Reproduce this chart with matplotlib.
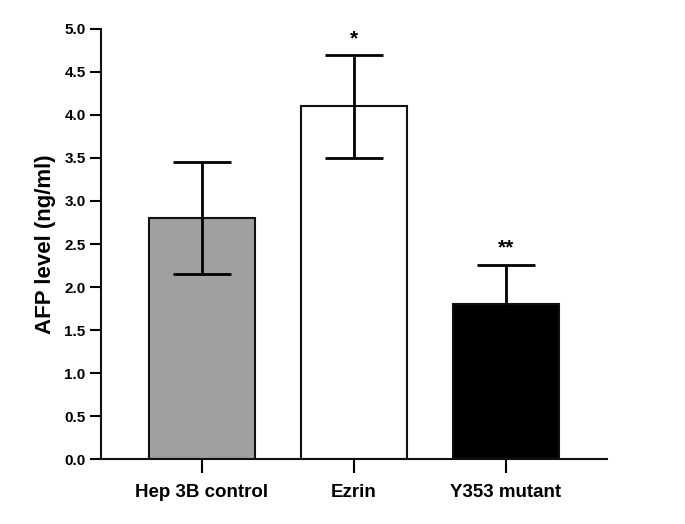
import matplotlib; matplotlib.use("Agg")
import matplotlib.pyplot as plt

groups = ["Hep 3B control", "Ezrin", "Y353 mutant"]
means = [2.8, 4.1, 1.8]
errs = [0.65, 0.6, 0.46]
colors = ["#a0a0a0", "#ffffff", "#000000"]
stars = ["", "*", "**"]

plt.rcParams["font.family"] = ["Liberation Sans", "DejaVu Sans"]
plt.rcParams["font.weight"] = "bold"

fig = plt.figure(figsize=(6.85, 5.24), dpi=100)
ax = fig.add_axes([0.1474, 0.124, 0.7386, 0.8207])
x = list(range(len(groups)))
ax.bar(x, means, width=0.7, color=colors, edgecolor="#111111", linewidth=1.5, zorder=2)
ax.errorbar(x, means, yerr=errs, fmt="none", ecolor="#000000", elinewidth=2,
            capsize=21, capthick=2, zorder=3)
for xi, m, e, s in zip(x, means, errs, stars):
    if s:
        ax.text(xi, m + e + 0.08, s, ha="center", va="bottom", fontsize=15, fontweight="bold")

ax.set_xlim(-0.665, 2.665)
ax.set_ylim(0, 5.0)
ax.set_yticks([i * 0.5 for i in range(11)])
ax.set_yticklabels([f"{i*0.5:.1f}" for i in range(11)])
ax.set_xticks(x)
ax.set_xticklabels(groups)
ax.tick_params(axis="y", length=8, width=1.5, labelsize=11, pad=3)
ax.tick_params(axis="x", length=10, width=1.5, labelsize=13.5, pad=8)
ax.set_ylabel("AFP level (ng/ml)", fontsize=16, fontweight="bold", labelpad=6)
for sp in ["top", "right"]:
    ax.spines[sp].set_visible(False)
for sp in ["left", "bottom"]:
    ax.spines[sp].set_linewidth(1.5)
    ax.spines[sp].set_color("#111111")
fig.savefig("out.png", dpi=100)
